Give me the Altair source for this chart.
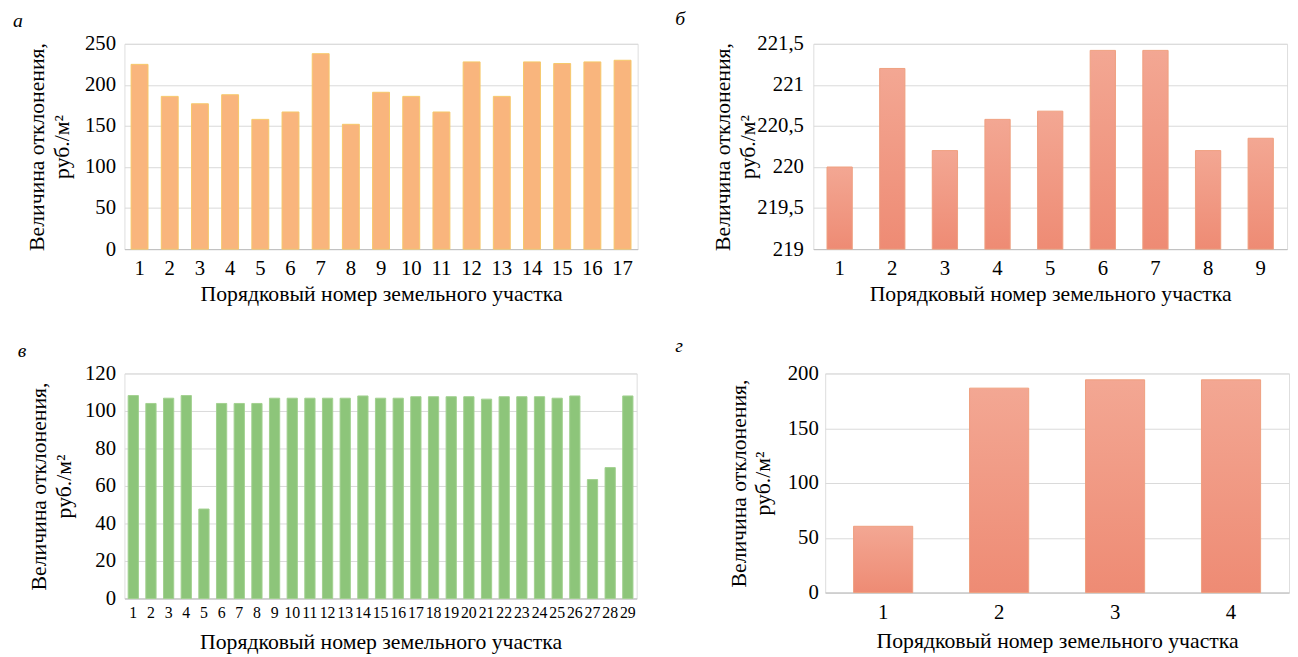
import altair as alt
import pandas as pd

# ---- data ----
a_ids = list(range(1, 18))
a_vals = [225, 186, 177, 188, 158, 167, 238, 152, 191, 186, 167, 228, 186, 228, 226, 228, 230]
a_ticks = [0, 50, 100, 150, 200, 250]

b_ids = list(range(1, 10))
b_vals = [220.0, 221.2, 220.2, 220.58, 220.68, 221.42, 221.42, 220.2, 220.35]
b_ticks = [219, 219.5, 220, 220.5, 221, 221.5]

c_ids = list(range(1, 30))
c_vals = [108.2, 104, 106.8, 108.2, 47.7, 104, 104, 104, 106.8, 106.8, 106.8, 106.8, 106.8, 108,
          106.8, 106.8, 107.6, 107.6, 107.6, 107.6, 106.3, 107.6, 107.6, 107.6, 106.8, 108, 63.4, 69.8, 108]
c_ticks = [0, 20, 40, 60, 80, 100, 120]

d_ids = list(range(1, 5))
d_vals = [60.5, 186.6, 194.2, 194.2]
d_ticks = [0, 50, 100, 150, 200]

FONT = "'Liberation Serif', 'Times New Roman', 'DejaVu Serif', serif"
YTITLE = ["Величина отклонения,", "руб./м²"]
XTITLE = "Порядковый номер земельного участка"
GRID = "#D9D9D9"
DOMAIN = "#BFBFBF"

salmon = alt.Gradient(
    gradient="linear",
    stops=[alt.GradientStop(offset=0, color="#F3A793"),
           alt.GradientStop(offset=1, color="#EE8B74")],
    x1=1, x2=1, y1=0, y2=1,
)


def panel(ids, vals, letter, width, height, ydom, yticks, fill, stroke, pinner,
          y_ext, y_tpad, y_lpad, x_lsize, x_lpad, x_tpad, t_offset, t_dx,
          base=None, label_expr=None):
    df = pd.DataFrame({"n": ids, "v": vals})
    yaxis = dict(values=yticks, grid=True, gridColor=GRID, domain=False, ticks=False,
                 labelFont=FONT, labelFontSize=21, labelColor="#000", labelPadding=y_lpad,
                 title=YTITLE, titleFont=FONT, titleFontSize=22, titleFontWeight="normal",
                 titleColor="#000", titlePadding=y_tpad, titleLineHeight=25,
                 minExtent=y_ext, maxExtent=y_ext)
    if label_expr:
        yaxis["labelExpr"] = label_expr
    enc = dict(
        x=alt.X("n:O", title=XTITLE,
                scale=alt.Scale(paddingInner=pinner, paddingOuter=pinner / 2),
                axis=alt.Axis(labelAngle=0, ticks=False, domain=True, domainColor=DOMAIN,
                              labelFont=FONT, labelFontSize=x_lsize, labelColor="#000",
                              labelPadding=x_lpad, titleFont=FONT, titleFontSize=22,
                              titleFontWeight="normal", titleColor="#000",
                              titlePadding=x_tpad, grid=False)),
        y=alt.Y("v:Q", scale=alt.Scale(domain=ydom, zero=False, nice=False),
                axis=alt.Axis(**yaxis)),
    )
    if base is not None:
        enc["y2"] = alt.datum(base)
    return alt.Chart(df).mark_bar(fill=fill, stroke=stroke, strokeWidth=1).encode(**enc).properties(
        width=width, height=height,
        title=alt.TitleParams(text=letter, anchor="start", font=FONT, fontSize=20,
                              fontStyle="italic", fontWeight="normal", color="#000",
                              offset=t_offset, dx=t_dx),
    )


pa = panel(a_ids, a_vals, "а", 520, 208, [0, 250], a_ticks, "#F9B57D", "#F6C86A", 0.44,
           42, 10, 9, 21, 9, 5, 2, -13)
pb = panel(b_ids, b_vals, "б", 480, 208, [219, 221.5], b_ticks, salmon, "#EFA07F", 0.52,
           45, 10, 10, 21, 9, 5, 4, -37, base=219,
           label_expr="replace(format(datum.value, '.1~f'), '.', ',')")
pc = panel(c_ids, c_vals, "в", 519, 228, [0, 120], c_ticks, "#8DC57A", "#A2D08F", 0.42,
           40, 10, 9, 16, 6, 12, 2, -10)
pd_ = panel(d_ids, d_vals, "г", 470, 222, [0, 200], d_ticks, salmon, "#EFA07F", 0.49,
            42, 9, 7, 21, 9, 9, 7, -53)

chart = alt.vconcat(
    alt.hconcat(pa, pb, spacing=36),
    alt.hconcat(pc, pd_, spacing=37),
    spacing=30,
).properties(
    padding={"left": 4, "top": -4, "right": 0, "bottom": 0}
).configure_view(stroke=None).configure(background="white")

chart.save("out.html", embed_options={"renderer": "svg", "actions": False})
